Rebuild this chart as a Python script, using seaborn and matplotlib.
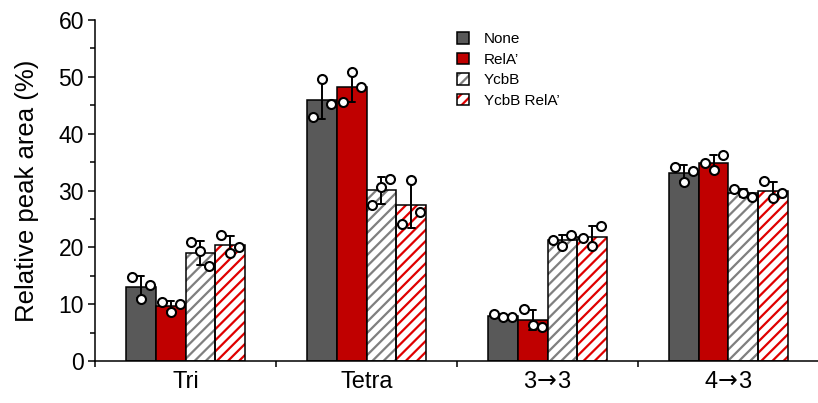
import matplotlib
matplotlib.use("Agg")
import matplotlib.pyplot as plt
from matplotlib.patches import Patch, Rectangle
from matplotlib.legend_handler import HandlerTuple
from matplotlib.ticker import MultipleLocator, FixedLocator
import numpy as np
import pandas as pd
import seaborn as sns

# Muropeptide classes on the x axis
categories = ["Tri", "Tetra", "3\u21923", "4\u21923"]
category_labels = ["Tri", "Tetra", r"3$\!\rightarrow\!$3", r"4$\!\rightarrow\!$3"]
strains = ["None", "RelA\u2019", "YcbB", "YcbB RelA\u2019"]

# Three biological replicates per strain and class (relative peak area, %)
rep_none = [[14.7, 10.9, 13.3], [42.9, 49.7, 45.3], [8.3, 7.7, 7.7], [34.2, 31.5, 33.5]]
rep_rela = [[10.3, 8.7, 10.0], [45.5, 50.9, 48.2], [9.2, 6.4, 6.0], [34.9, 33.6, 36.2]]
rep_ycbb = [[20.9, 19.4, 16.7], [27.4, 30.7, 32.0], [21.3, 20.3, 22.2], [30.3, 29.5, 28.9]]
rep_ycbb_rela = [[22.2, 19.0, 20.1], [24.1, 31.8, 26.3], [21.6, 20.3, 23.8], [31.7, 28.6, 29.6]]

fill_colors = ["#595959", "#c00000", "#ffffff", "#ffffff"]
hatch_colors = [None, None, "#7f7f7f", "#e00000"]

replicates = [rep_none, rep_rela, rep_ycbb, rep_ycbb_rela]
rows = []
for strain, reps in zip(strains, replicates):
    for cat, vals in zip(categories, reps):
        for r, v in enumerate(vals):
            rows.append({"cls": cat, "strain": strain, "rep": r, "value": v})
df = pd.DataFrame(rows)

sns.set_theme(style="white")
plt.rcParams["font.family"] = ["Liberation Sans", "DejaVu Sans"]
plt.rcParams["mathtext.fontset"] = "dejavusans"
plt.rcParams["hatch.linewidth"] = 1.6
for key in ["text.color", "axes.labelcolor", "xtick.color", "ytick.color"]:
    plt.rcParams[key] = "black"

fig = plt.figure(figsize=(8.18, 4.03), dpi=100)
ax = fig.add_axes([95 / 818, 1 - 361 / 403, 724 / 818, 341 / 403])

sns.barplot(
    data=df, x="cls", y="value", hue="strain", order=categories, hue_order=strains,
    palette=dict(zip(strains, fill_colors)), errorbar="sd", capsize=0.15,
    err_kws={"color": "black", "linewidth": 1.4}, width=0.66, gap=0,
    edgecolor="black", linewidth=1.1, saturation=1, legend=False, ax=ax,
)

# Hatched bars: coloured stripes underneath, black outline on top
for h, cont in enumerate(ax.containers):
    for bar in cont:
        if hatch_colors[h] is not None:
            bar.set_facecolor("white")
            bar.set_edgecolor(hatch_colors[h])
            bar.set_hatch("///")
            bar.set_linewidth(0)
            ax.add_patch(Rectangle((bar.get_x(), bar.get_y()), bar.get_width(), bar.get_height(),
                                   fill=False, edgecolor="black", linewidth=1.1, zorder=bar.get_zorder()))

# Individual replicate points: left, centre, right within each bar
for h, cont in enumerate(ax.containers):
    for c, bar in enumerate(cont):
        cx = bar.get_x() + bar.get_width() / 2
        xs = cx + np.array([-0.3, 0.0, 0.3]) * bar.get_width()
        ax.scatter(xs, replicates[h][c], s=42, facecolor="white", edgecolor="black",
                   linewidth=1.5, zorder=5, clip_on=False)

ax.set_xlim(-0.5, 3.5)
ax.set_ylim(0, 60)
ax.yaxis.set_major_locator(MultipleLocator(10))
ax.yaxis.set_minor_locator(MultipleLocator(5))
ax.xaxis.set_major_locator(FixedLocator([-0.5, 0.5, 1.5, 2.5, 3.5]))
ax.xaxis.set_minor_locator(FixedLocator([0, 1, 2, 3]))
ax.set_xticklabels([])
ax.set_xticklabels(category_labels, minor=True)
ax.tick_params(axis="x", which="major", direction="out", length=4.5, width=1.1, color="black", bottom=True)
ax.tick_params(axis="x", which="minor", length=0, pad=7, labelsize=17, bottom=True)
ax.tick_params(axis="y", which="major", direction="out", length=5, width=1.1, color="black",
               labelsize=16.5, pad=3, left=True)
ax.tick_params(axis="y", which="minor", direction="out", length=3.5, width=1.1, color="black", left=True)
ax.set_xlabel("")
ax.set_ylabel("Relative peak area (%)", fontsize=18.5, labelpad=14)

for side in ["top", "right"]:
    ax.spines[side].set_visible(False)
for side in ["left", "bottom"]:
    ax.spines[side].set_color("black")
    ax.spines[side].set_linewidth(1.1)

# Legend with separate hatch colour and black outline
handles = []
for fc, hc in zip(fill_colors, hatch_colors):
    if hc is None:
        handles.append(Patch(facecolor=fc, edgecolor="black", linewidth=1.1))
    else:
        handles.append((Patch(facecolor="white", edgecolor=hc, hatch="///", linewidth=0),
                        Patch(fill=False, edgecolor="black", linewidth=1.1)))
ax.legend(handles, strains, handler_map={tuple: HandlerTuple(ndivide=1, pad=0)},
          loc="upper left", bbox_to_anchor=(454 / 818, 1 - 29 / 403),
          bbox_transform=fig.transFigure, frameon=False, fontsize=11,
          handlelength=0.8, handleheight=0.8, handletextpad=0.95,
          labelspacing=0.42, borderpad=0.2, borderaxespad=0)

fig.savefig("out.png", dpi=100)
